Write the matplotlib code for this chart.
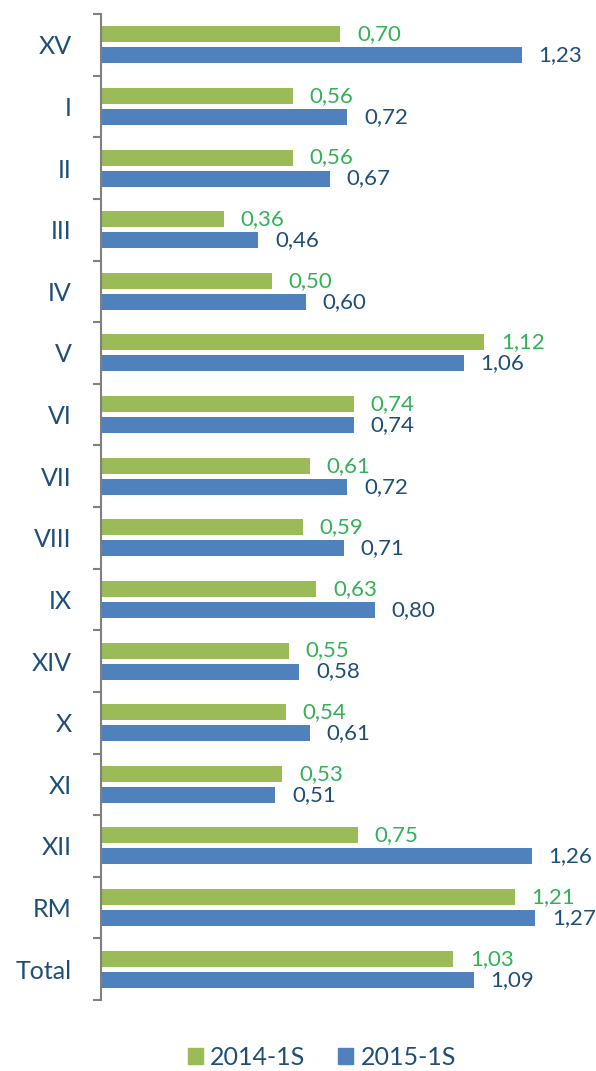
import numpy as np
import matplotlib
matplotlib.use("Agg")
import matplotlib.pyplot as plt
from matplotlib.patches import Patch

plt.rcParams['font.family'] = ['Lato', 'DejaVu Sans']

# data
categories = ['XV', 'I', 'II', 'III', 'IV', 'V', 'VI', 'VII', 'VIII', 'IX',
              'XIV', 'X', 'XI', 'XII', 'RM', 'Total']
s2014 = [0.70, 0.56, 0.56, 0.36, 0.50, 1.12, 0.74, 0.61, 0.59, 0.63,
         0.55, 0.54, 0.53, 0.75, 1.21, 1.03]
s2015 = [1.23, 0.72, 0.67, 0.46, 0.60, 1.06, 0.74, 0.72, 0.71, 0.80,
         0.58, 0.61, 0.51, 1.26, 1.27, 1.09]

green = '#9BBB59'
blue = '#4F81BD'
green_txt = '#33B156'
blue_txt = '#1F4E79'

fig = plt.figure(figsize=(5.96, 10.71), dpi=100)
ax = fig.add_axes([101/596, 1 - 1000/1071, 1 - 101/596, (1000 - 14)/1071])

y = np.arange(len(categories))
h = 0.26
ax.barh(y - 0.17, s2014, height=h, color=green)
ax.barh(y + 0.17, s2015, height=h, color=blue)

for yi, v in zip(y, s2014):
    ax.annotate(f'{v:.2f}'.replace('.', ','), (v, yi - 0.17), xytext=(12, 0),
                textcoords='offset points', va='center', ha='left',
                fontsize=16, color=green_txt)
for yi, v in zip(y, s2015):
    ax.annotate(f'{v:.2f}'.replace('.', ','), (v, yi + 0.17), xytext=(12, 0),
                textcoords='offset points', va='center', ha='left',
                fontsize=16, color=blue_txt)

ax.set_xlim(0, 495/342)
ax.set_ylim(len(categories) - 0.5, -0.5)
ax.set_xticks([])
ax.set_yticks(y)
ax.set_yticklabels(categories, fontsize=18, color=blue_txt)
ax.set_yticks(np.arange(-0.5, len(categories)), minor=True)
ax.tick_params(axis='y', which='major', length=0, pad=21)
ax.tick_params(axis='y', which='minor', length=6, width=1.5, color='#808080',
               direction='out')
for side in ['top', 'right', 'bottom']:
    ax.spines[side].set_visible(False)
ax.spines['left'].set_color('#808080')
ax.spines['left'].set_linewidth(1.5)

handles = [Patch(color=green, label='2014-1S'), Patch(color=blue, label='2015-1S')]
leg = fig.legend(handles=handles, loc='center', bbox_to_anchor=(0.54, 0.013),
                 ncol=2, frameon=False, fontsize=18, handlelength=0.6,
                 handleheight=0.6, handletextpad=0.3, columnspacing=1.3)
for t in leg.get_texts():
    t.set_color(blue_txt)

fig.savefig('out.png', dpi=100)
